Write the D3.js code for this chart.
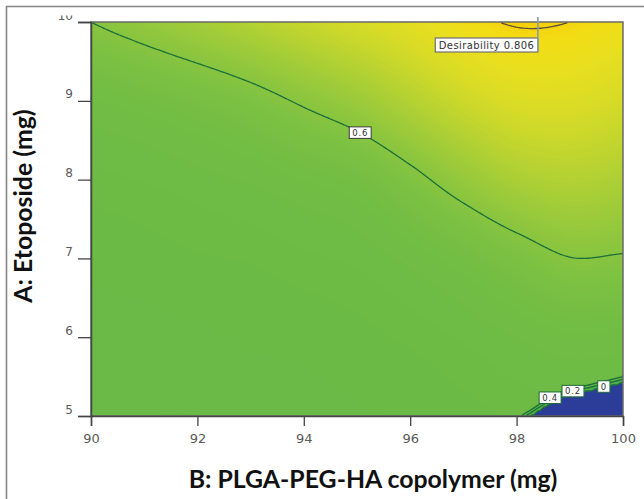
<!DOCTYPE html>
<html>
<head>
<meta charset="utf-8">
<script src="https://cdn.jsdelivr.net/npm/d3@7"></script>
<style>
  html, body { margin: 0; padding: 0; background: #fff; }
  svg { display: block; }
</style>
</head>
<body>
<svg id="chart" width="644" height="499"></svg>
<script>
// ---- Design space and response surface ----
const copolymerLevels = [90, 91, 92, 93, 94, 95, 96, 97, 98, 99, 100]; // B: PLGA-PEG-HA (mg)
const etoposideLevels = [10, 9, 8, 7, 6, 5];                           // A: Etoposide (mg), top row first
// Overall desirability at each design node (rows follow etoposideLevels, columns copolymerLevels)
const desirability = [
  [0.600, 0.620, 0.643, 0.667, 0.694, 0.720, 0.746, 0.782, 0.805, 0.800, 0.776],
  [0.544, 0.554, 0.566, 0.583, 0.606, 0.631, 0.666, 0.702, 0.729, 0.732, 0.716],
  [0.519, 0.523, 0.529, 0.536, 0.546, 0.558, 0.587, 0.622, 0.653, 0.665, 0.656],
  [0.508, 0.510, 0.513, 0.515, 0.520, 0.525, 0.538, 0.555, 0.578, 0.599, 0.5965],
  [0.504, 0.504, 0.505, 0.507, 0.508, 0.511, 0.516, 0.524, 0.534, 0.543, 0.541],
  [0.502, 0.502, 0.502, 0.503, 0.504, 0.505, 0.507, 0.510, 0.515, 0.518, 0.518]
];
// Edge below which the limiting response is out of range (desirability = 0)
const zeroEdgeB = [97.9, 98.25, 98.57, 98.87, 99.38, 99.94, 100.0];
const zeroEdgeA = [4.86, 5.00, 5.14, 5.25, 5.33, 5.42, 5.43];

const contourLevels = [0, 0.2, 0.4, 0.6, 0.8];
const labelLevels = [0.6, 0.4, 0.2, 0];
const labelAtB = [95.06, 98.63, 99.06, 99.64];

const optimumB = 98.4, optimumA = 10, optimumD = 0.806;

const xTicks = [90, 92, 94, 96, 98, 100];
const yTicks = [5, 6, 7, 8, 9, 10];
const xTitle = "B: PLGA-PEG-HA copolymer (mg)";
const yTitle = "A: Etoposide (mg)";

// ---- Layout ----
const svg = d3.select("#chart");
const plot = { left: 91, right: 623, top: 22, bottom: 416 };
const bDomain = [copolymerLevels[0], copolymerLevels[copolymerLevels.length - 1]];
const aDomain = [etoposideLevels[etoposideLevels.length - 1], etoposideLevels[0]];
const x = d3.scaleLinear().domain(bDomain).range([plot.left, plot.right]);
const y = d3.scaleLinear().domain(aDomain).range([plot.bottom, plot.top]);

const color = d3.scaleLinear()
  .domain([0, 0.004, 0.02, 0.45, 0.50, 0.55, 0.58, 0.60, 0.64, 0.68, 0.72, 0.76, 0.79, 0.806])
  .range(["#2c3d99", "#2c3d99", "#4fae4c", "#66b847", "#6ab946", "#72bd44", "#7cc142",
          "#87c440", "#a1cc39", "#bdd430", "#d7db27", "#e9df1f", "#f3dc13", "#f6cf0a"])
  .clamp(true);

// ---- Smooth surface through the design nodes (Catmull-Rom, linear ghost nodes) ----
const nB = copolymerLevels.length, nA = etoposideLevels.length;
function node(i, j) {
  if (i < 0) return 2 * node(0, j) - node(1, j);
  if (i > nB - 1) return 2 * node(nB - 1, j) - node(nB - 2, j);
  if (j < 0) return 2 * node(i, 0) - node(i, 1);
  if (j > nA - 1) return 2 * node(i, nA - 1) - node(i, nA - 2);
  return desirability[j][i];
}
function cr(p0, p1, p2, p3, t) {
  return 0.5 * (2 * p1 + (-p0 + p2) * t + (2 * p0 - 5 * p1 + 4 * p2 - p3) * t * t +
    (-p0 + 3 * p1 - 3 * p2 + p3) * t * t * t);
}
const bIndex = d3.scaleLinear().domain(bDomain).range([0, nB - 1]);
const aIndex = d3.scaleLinear().domain([etoposideLevels[0], etoposideLevels[nA - 1]]).range([0, nA - 1]);
function surface(B, A) {
  const fx = bIndex(B), fy = aIndex(A);
  const i = Math.max(0, Math.min(Math.floor(fx), nB - 2));
  const j = Math.max(0, Math.min(Math.floor(fy), nA - 2));
  const tx = fx - i, ty = fy - j;
  const r = [-1, 0, 1, 2].map(dj =>
    cr(node(i - 1, j + dj), node(i, j + dj), node(i + 1, j + dj), node(i + 2, j + dj), tx));
  return cr(r[0], r[1], r[2], r[3], ty);
}
const zeroEdge = d3.scaleLinear().domain(zeroEdgeB).range(zeroEdgeA);
const rampWidth = 0.09;
function overall(B, A) {
  const r = Math.max(0, Math.min(1, (A - zeroEdge(B)) / rampWidth));
  return surface(B, A) * r;
}

// ---- Sample on a fine grid ----
const n = 266, m = 197;
const values = new Float64Array(n * m);
for (let j = 0; j < m; j++) {
  const A = aDomain[1] - (j + 0.5) * (aDomain[1] - aDomain[0]) / m;
  for (let i = 0; i < n; i++) {
    const B = bDomain[0] + (i + 0.5) * (bDomain[1] - bDomain[0]) / n;
    values[j * n + i] = overall(B, A);
  }
}
const gu = u => x(bDomain[0] + u * (bDomain[1] - bDomain[0]) / n);
const gv = v => y(aDomain[1] - v * (aDomain[1] - aDomain[0]) / m);
const gridPath = d3.geoPath(d3.geoTransform({
  point(u, v) { this.stream.point(gu(u), gv(v)); }
}));

// ---- Clip paths ----
const defs = svg.append("defs");
defs.append("clipPath").attr("id", "plotClip").append("rect")
  .attr("x", plot.left).attr("y", plot.top)
  .attr("width", plot.right - plot.left).attr("height", plot.bottom - plot.top);
defs.append("clipPath").attr("id", "topCut").append("rect")
  .attr("x", -200).attr("y", 15.5).attr("width", 1000).attr("height", 485);

// ---- Figure frame ----
svg.append("line").attr("x1", 6).attr("x2", 644).attr("y1", 6.5).attr("y2", 6.5)
  .attr("stroke", "#858585").attr("stroke-width", 1.6);
svg.append("line").attr("x1", 6.5).attr("x2", 6.5).attr("y1", 6).attr("y2", 499)
  .attr("stroke", "#858585").attr("stroke-width", 1.6);

// ---- Filled surface ----
const surfaceG = svg.append("g").attr("clip-path", "url(#plotClip)");
surfaceG.append("rect")
  .attr("x", plot.left).attr("y", plot.top)
  .attr("width", plot.right - plot.left).attr("height", plot.bottom - plot.top)
  .attr("fill", color(0));
const step = 0.004;
const bands = d3.contours().size([n, m]).thresholds(d3.range(0.002, 0.81, step))(values);
surfaceG.selectAll("path.band").data(bands).join("path")
  .attr("class", "band")
  .attr("d", gridPath)
  .attr("fill", d => color(d.value + step / 2))
  .attr("stroke", d => color(d.value + step / 2))
  .attr("stroke-width", 0.4);

// ---- Contour lines (boundary runs removed) ----
function ringLines(ring) {
  const onEdge = p => p[0] <= 0 || p[0] >= n || p[1] <= 0 || p[1] >= m;
  const out = [];
  let cur = [];
  for (const p of ring) {
    if (cur.length && onEdge(cur[cur.length - 1]) && onEdge(p)) {
      if (cur.length > 1) out.push(cur);
      cur = [p];
    } else cur.push(p);
  }
  if (cur.length > 1) out.push(cur);
  return out;
}
const lineGen = d3.line().x(p => gu(p[0])).y(p => gv(p[1])).curve(d3.curveLinear);
const lineG = svg.append("g").attr("clip-path", "url(#plotClip)");
contourLevels.forEach(level => {
  const c = d3.contours().size([n, m]).thresholds([Math.max(level, 0.002)])(values)[0];
  const lines = [];
  c.coordinates.forEach(poly => poly.forEach(ring => lines.push(...ringLines(ring))));
  lineG.selectAll(null).data(lines).join("path")
    .attr("d", lineGen)
    .attr("fill", "none")
    .attr("stroke", level >= 0.7 ? "#5e4f3c" : "#1b6e3c")
    .attr("stroke-width", 1.3);
});

// ---- Contour labels ----
function crossingA(B, level) {
  const lv = Math.max(level, 0.002);
  for (let A = aDomain[0]; A <= aDomain[1]; A += 0.002) {
    if (overall(B, A) >= lv) return A;
  }
  return aDomain[1];
}
const labelG = svg.append("g");
labelLevels.forEach((level, k) => {
  const B = labelAtB[k];
  const px = x(B), py = y(crossingA(B, level));
  const g = labelG.append("g").attr("transform", `translate(${px},${py})`);
  const rect = g.append("rect");
  const t = g.append("text").text(String(level))
    .attr("text-anchor", "middle").attr("dy", "0.36em")
    .style("font-family", "DejaVu Sans").style("font-size", "8.5px")
    .style("letter-spacing", "0.8px").attr("fill", "#333");
  const w = t.node().getComputedTextLength() + 6, h = 11.5;
  rect.attr("x", -w / 2).attr("y", -h / 2).attr("width", w).attr("height", h)
    .attr("fill", "#fff").attr("stroke", level >= 0.5 ? "#3a3a3a" : "#1d6b38").attr("stroke-width", 1);
});

// ---- Plot border ----
svg.append("rect")
  .attr("x", plot.left).attr("y", plot.top)
  .attr("width", plot.right - plot.left).attr("height", plot.bottom - plot.top)
  .attr("fill", "none").attr("stroke", "#6a6a6a").attr("stroke-width", 1.5);

// ---- Axes ----
const yAxis = d3.axisLeft(y).tickValues(yTicks).tickSize(13).tickPadding(5).tickFormat(d3.format("d"));
const gy = svg.append("g").attr("clip-path", "url(#topCut)")
  .append("g").attr("transform", `translate(${plot.left},0)`).call(yAxis);
gy.select(".domain").attr("stroke", "#444").attr("stroke-width", 1.5);
gy.selectAll(".tick line").attr("stroke", "#444").attr("stroke-width", 1.3);
gy.selectAll(".tick text").attr("dy", -3).attr("fill", "#5a5a5a")
  .style("font-family", "DejaVu Sans").style("font-size", "12px");

const xAxis = d3.axisBottom(x).tickValues(xTicks).tickSize(10).tickPadding(7.5).tickFormat(d3.format("d"));
const gx = svg.append("g").attr("transform", `translate(0,${plot.bottom})`).call(xAxis);
gx.select(".domain").attr("stroke", "#444").attr("stroke-width", 1.5);
gx.selectAll(".tick line").attr("stroke", "#444").attr("stroke-width", 1.3);
gx.selectAll(".tick text").attr("fill", "#5a5a5a")
  .style("font-family", "DejaVu Sans").style("font-size", "13px");

// ---- Axis titles ----
const xt = svg.append("text").text(xTitle)
  .attr("x", 373).attr("y", 488).attr("text-anchor", "middle").attr("fill", "#111")
  .style("font-family", "Lato").style("font-weight", 700).style("font-size", "22px");
const titleSize = 22 * 369 / xt.node().getComputedTextLength();
xt.style("font-size", titleSize + "px");
svg.append("text").text(yTitle)
  .attr("transform", "translate(32,206) rotate(-90)")
  .attr("text-anchor", "middle").attr("fill", "#111")
  .style("font-family", "Lato").style("font-weight", 700).style("font-size", titleSize + "px");

// ---- Optimum flag ----
const fx = x(optimumB), fy = y(optimumA);
const flagG = svg.append("g");
const flagText = flagG.append("text")
  .text(`Desirability ${optimumD.toFixed(3)}`)
  .attr("fill", "#333")
  .style("font-family", "DejaVu Sans").style("font-size", "10px").style("letter-spacing", "0.4px");
const ftw = flagText.node().getComputedTextLength();
const boxW = ftw + 7, boxH = 14, boxTop = 38;
flagG.insert("rect", "text")
  .attr("x", fx - boxW).attr("y", boxTop).attr("width", boxW).attr("height", boxH)
  .attr("fill", "#fff").attr("stroke", "#707070").attr("stroke-width", 1.2);
flagText.attr("x", fx - boxW + 3.5).attr("y", boxTop + 11);
flagG.append("line").attr("x1", fx).attr("x2", fx).attr("y1", fy - 5).attr("y2", boxTop + boxH)
  .attr("stroke", "#8b9bb0").attr("stroke-width", 1.6);
</script>
</body>
</html>
